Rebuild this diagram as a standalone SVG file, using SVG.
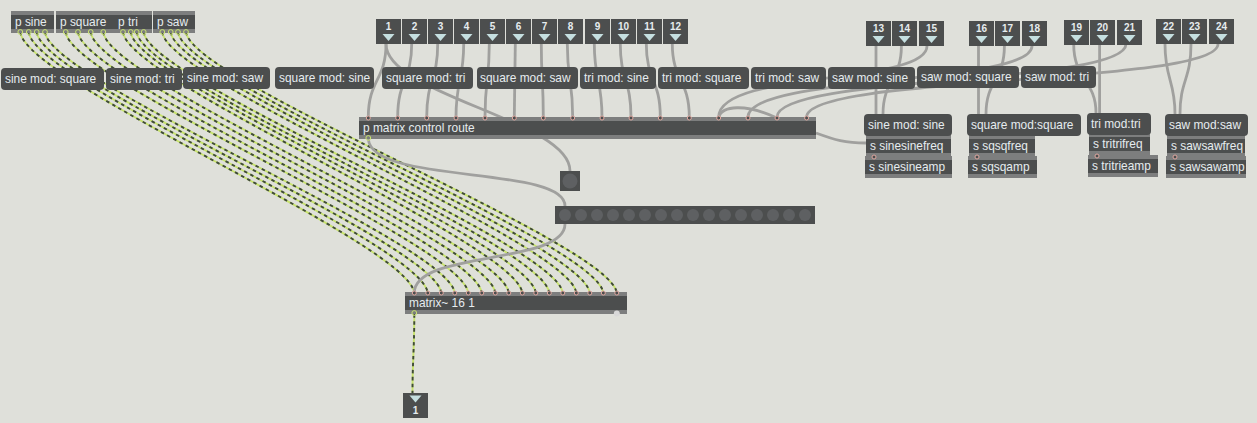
<svg xmlns="http://www.w3.org/2000/svg" width="1257" height="423" viewBox="0 0 1257 423">
<style>
text{font-family:"Liberation Sans",Arial,sans-serif;font-size:11.9px;fill:#e6ecee}
.num{font-size:10px;font-weight:bold;text-anchor:middle}
.c{fill:none;stroke:#a0a09e;stroke-width:2.8}
.sb{fill:none;stroke:#c8e36e;stroke-width:1.9}
.sd{fill:none;stroke:#3f4a38;stroke-width:1.9;stroke-dasharray:3.5 3.5}
.bar{fill:#7d7e7e}.body{fill:#4c4e4e}.bub{fill:#4c4e4e}.tri{fill:#c5dfe0}
.in{fill:#4c4e4e;stroke:#e0a8a0;stroke-width:1}
.out{fill:none;stroke:#c8e36e;stroke-width:1}
.led{fill:#5e6062}
</style>
<defs>
<path id="s1" d="M20.3,32C25,82 409,243 414.3,293"/>
<path id="s2" d="M28.7,32C34,82 422,243 427.8,293"/>
<path id="s3" d="M36.7,32C42,82 436,243 441.3,293"/>
<path id="s4" d="M45,32C50,82 449,243 454.8,293"/>
<path id="s5" d="M65.7,32C71,82 463,243 468.3,293"/>
<path id="s6" d="M78,32C83,82 476,243 481.8,293"/>
<path id="s7" d="M90.7,32C96,82 490,243 495.3,293"/>
<path id="s8" d="M103.3,32C108,82 503,243 508.8,293"/>
<path id="s9" d="M123,32C128,82 517,243 522.3,293"/>
<path id="s10" d="M130.7,32C136,82 530,243 535.8,293"/>
<path id="s11" d="M136.7,32C142,82 544,243 549.3,293"/>
<path id="s12" d="M143.7,32C149,82 557,243 562.8,293"/>
<path id="s13" d="M162.3,32C167,82 571,243 576.3,293"/>
<path id="s14" d="M170.7,32C176,82 584,243 589.8,293"/>
<path id="s15" d="M178,32C183,82 598,243 603.3,293"/>
<path id="s16" d="M186,32C191,82 611,243 616.8,293"/>
<path id="s17" d="M414.3,314C414.3,350 412.5,360 412.5,393"/>
<g id="sigs">
<use href="#s1"/><use href="#s2"/><use href="#s3"/><use href="#s4"/><use href="#s5"/><use href="#s6"/><use href="#s7"/><use href="#s8"/><use href="#s9"/><use href="#s10"/><use href="#s11"/><use href="#s12"/><use href="#s13"/><use href="#s14"/><use href="#s15"/><use href="#s16"/><use href="#s17"/>
</g>
</defs>
<rect width="1257" height="423" fill="#dfe0da"/>
<g id="connectors">
<use href="#sigs" class="sb"/>
<use href="#sigs" class="sd"/>
<g class="c">
<path d="M386,44C386,80 368.3,80 368.3,117"/>
<path d="M386,44C386,95 570,120 570,171"/>
<path d="M411.7,44C411.7,80 397.7,80 397.7,117"/>
<path d="M437.7,44C437.7,80 426.7,80 426.7,117"/>
<path d="M463.7,44C463.7,80 456,80 456,117"/>
<path d="M489.3,44C489.3,80 485,80 485,117"/>
<path d="M515.3,44L514.3,117"/>
<path d="M541.3,44C541.3,80 543.3,80 543.3,117"/>
<path d="M567.3,44C567.3,80 572.7,80 572.7,117"/>
<path d="M594.3,44C594.3,80 602,80 602,117"/>
<path d="M620.3,44C620.3,80 631,80 631,117"/>
<path d="M646.3,44C646.3,80 660.3,80 660.3,117"/>
<path d="M672.3,44C672.3,80 689.3,80 689.3,117"/>
<path d="M876,46V114"/>
<path d="M901.4,46C901.4,80 883,80 883,114"/>
<path d="M927,46C927,85 719,70 718.7,117"/>
<path d="M978.5,46V114"/>
<path d="M1004.4,46C1004.4,80 986,80 986,114"/>
<path d="M1032,46C1032,85 748,75 748,117"/>
<path d="M1073.7,44C1073.7,80 1096,80 1096,113"/>
<path d="M1099.6,44V113"/>
<path d="M1126,44C1126,85 777,75 777,117"/>
<path d="M1165,44C1165,80 1175,80 1175,114"/>
<path d="M1191,44C1191,80 1180,80 1180,114"/>
<path d="M1218,44C1218,85 806.6,75 806.6,117"/>
<path d="M718.7,117C722,106 745,103 777,118"/>
<path d="M816,133C835,140 845,143 866,143"/>
<path d="M368.3,139C372,185 565,165 565,206"/>
<path d="M565,224C565,265 414.3,250 414.3,293"/>
</g>
</g>
<g id="p-sine"><rect class="bar" x="11" y="11" width="43" height="22"/><rect class="body" x="11" y="15" width="43" height="14"/><text x="15" y="26">p sine</text></g>
<g id="p-square"><rect class="bar" x="56" y="11" width="58" height="22"/><rect class="body" x="56" y="15" width="58" height="14"/><text x="60" y="26">p square</text></g>
<g id="p-tri"><rect class="bar" x="114" y="11" width="38" height="22"/><rect class="body" x="114" y="15" width="38" height="14"/><text x="118" y="26">p tri</text></g>
<g id="p-saw"><rect class="bar" x="153" y="11" width="42" height="22"/><rect class="body" x="153" y="15" width="42" height="14"/><text x="157" y="26">p saw</text></g>
<g class="out">
<circle cx="20.3" cy="32" r="2.4"/><circle cx="28.7" cy="32" r="2.4"/><circle cx="36.7" cy="32" r="2.4"/><circle cx="45" cy="32" r="2.4"/>
<circle cx="65.7" cy="32" r="2.4"/><circle cx="78" cy="32" r="2.4"/><circle cx="90.7" cy="32" r="2.4"/><circle cx="103.3" cy="32" r="2.4"/>
<circle cx="123" cy="32" r="2.4"/><circle cx="130.7" cy="32" r="2.4"/><circle cx="136.7" cy="32" r="2.4"/><circle cx="143.7" cy="32" r="2.4"/>
<circle cx="162.3" cy="32" r="2.4"/><circle cx="170.7" cy="32" r="2.4"/><circle cx="178" cy="32" r="2.4"/><circle cx="186" cy="32" r="2.4"/>
</g>
<g id="c1"><rect class="bub" x="1" y="68" width="103" height="22" rx="4"/><text x="5" y="83">sine mod: square</text></g>
<g id="c2"><rect class="bub" x="106" y="68" width="76" height="22" rx="4"/><text x="110" y="83">sine mod: tri</text></g>
<g id="c3"><rect class="bub" x="183" y="67" width="87" height="22" rx="4"/><text x="187" y="82">sine mod: saw</text></g>
<g id="c4"><rect class="bub" x="275" y="67" width="99" height="22" rx="4"/><text x="279" y="82">square mod: sine</text></g>
<g id="c5"><rect class="bub" x="382" y="67" width="91" height="22" rx="4"/><text x="386" y="82">square mod: tri</text></g>
<g id="c6"><rect class="bub" x="477" y="67" width="101" height="22" rx="4"/><text x="480" y="82">square mod: saw</text></g>
<g id="c7"><rect class="bub" x="580" y="67" width="76" height="22" rx="4"/><text x="584" y="82">tri mod: sine</text></g>
<g id="c8"><rect class="bub" x="658" y="67" width="91" height="22" rx="4"/><text x="662" y="82">tri mod: square</text></g>
<g id="c9"><rect class="bub" x="751" y="67" width="75" height="22" rx="4"/><text x="755" y="82">tri mod: saw</text></g>
<g id="c10"><rect class="bub" x="828" y="67" width="87" height="22" rx="4"/><text x="832" y="82">saw mod: sine</text></g>
<g id="c11"><rect class="bub" x="917" y="66" width="102" height="22" rx="4"/><text x="921" y="81">saw mod: square</text></g>
<g id="c12"><rect class="bub" x="1021" y="66" width="75" height="22" rx="4"/><text x="1025" y="81">saw mod: tri</text></g>
<g id="route"><rect class="bar" x="359" y="117" width="457" height="22"/><rect class="body" x="359" y="121" width="457" height="14"/><text x="363" y="132">p matrix control route</text>
<g class="in"><circle cx="368.3" cy="118" r="2"/><circle cx="397.7" cy="118" r="2"/><circle cx="426.7" cy="118" r="2"/><circle cx="456" cy="118" r="2"/><circle cx="485" cy="118" r="2"/><circle cx="514.3" cy="118" r="2"/><circle cx="543.3" cy="118" r="2"/><circle cx="572.7" cy="118" r="2"/><circle cx="602" cy="118" r="2"/><circle cx="631" cy="118" r="2"/><circle cx="660.3" cy="118" r="2"/><circle cx="689.3" cy="118" r="2"/><circle cx="718.7" cy="118" r="2"/><circle cx="748" cy="118" r="2"/><circle cx="777" cy="118" r="2"/><circle cx="806.6" cy="118" r="2"/></g>
<circle class="out" cx="368.3" cy="138" r="2.4"/></g>
<g id="bang"><rect class="body" x="560" y="171" width="20" height="20"/><circle class="led" cx="570" cy="181" r="7.5"/></g>
<g id="matrixctrl"><rect class="body" x="555" y="206" width="260" height="18"/>
<g class="led"><circle cx="565" cy="215" r="6"/><circle cx="581" cy="215" r="6"/><circle cx="597" cy="215" r="6"/><circle cx="613" cy="215" r="6"/><circle cx="629" cy="215" r="6"/><circle cx="645" cy="215" r="6"/><circle cx="661" cy="215" r="6"/><circle cx="677" cy="215" r="6"/><circle cx="693" cy="215" r="6"/><circle cx="709" cy="215" r="6"/><circle cx="725" cy="215" r="6"/><circle cx="741" cy="215" r="6"/><circle cx="757" cy="215" r="6"/><circle cx="773" cy="215" r="6"/><circle cx="789" cy="215" r="6"/><circle cx="805" cy="215" r="6"/></g></g>
<g id="matrix"><rect class="bar" x="405" y="292" width="222" height="22"/><rect class="body" x="405" y="296" width="222" height="14"/><text x="409" y="307">matrix~ 16 1</text>
<g class="in"><circle cx="414.3" cy="293" r="2"/><circle cx="427.8" cy="293" r="2"/><circle cx="441.3" cy="293" r="2"/><circle cx="454.8" cy="293" r="2"/><circle cx="468.3" cy="293" r="2"/><circle cx="481.8" cy="293" r="2"/><circle cx="495.3" cy="293" r="2"/><circle cx="508.8" cy="293" r="2"/><circle cx="522.3" cy="293" r="2"/><circle cx="535.8" cy="293" r="2"/><circle cx="549.3" cy="293" r="2"/><circle cx="562.8" cy="293" r="2"/><circle cx="576.3" cy="293" r="2"/><circle cx="589.8" cy="293" r="2"/><circle cx="603.3" cy="293" r="2"/><circle cx="616.8" cy="293" r="2"/></g>
<circle class="out" cx="414.3" cy="313" r="2.4"/><circle cx="616.8" cy="313.5" r="3" fill="#d8d8d8"/></g>
<g id="out1"><rect class="body" x="403" y="393" width="25" height="25"/><path class="tri" d="M409.5,395.5h12l-6,7z"/><text class="num" x="415.5" y="414">1</text></g>
<g id="inlets">
<g id="i1"><rect class="body" x="376" y="19" width="25" height="25"/><text class="num" x="388.5" y="30">1</text><path class="tri" d="M382.5,34h12l-6,7z"/></g>
<g id="i2"><rect class="body" x="402" y="19" width="25" height="25"/><text class="num" x="414.5" y="30">2</text><path class="tri" d="M408.5,34h12l-6,7z"/></g>
<g id="i3"><rect class="body" x="428" y="19" width="25" height="25"/><text class="num" x="440.5" y="30">3</text><path class="tri" d="M434.5,34h12l-6,7z"/></g>
<g id="i4"><rect class="body" x="454" y="19" width="25" height="25"/><text class="num" x="466.5" y="30">4</text><path class="tri" d="M460.5,34h12l-6,7z"/></g>
<g id="i5"><rect class="body" x="480" y="19" width="25" height="25"/><text class="num" x="492.5" y="30">5</text><path class="tri" d="M486.5,34h12l-6,7z"/></g>
<g id="i6"><rect class="body" x="506" y="19" width="25" height="25"/><text class="num" x="518.5" y="30">6</text><path class="tri" d="M512.5,34h12l-6,7z"/></g>
<g id="i7"><rect class="body" x="532" y="19" width="25" height="25"/><text class="num" x="544.5" y="30">7</text><path class="tri" d="M538.5,34h12l-6,7z"/></g>
<g id="i8"><rect class="body" x="558" y="19" width="25" height="25"/><text class="num" x="570.5" y="30">8</text><path class="tri" d="M564.5,34h12l-6,7z"/></g>
<g id="i9"><rect class="body" x="585" y="19" width="25" height="25"/><text class="num" x="597.5" y="30">9</text><path class="tri" d="M591.5,34h12l-6,7z"/></g>
<g id="i10"><rect class="body" x="611" y="19" width="25" height="25"/><text class="num" x="623.5" y="30">10</text><path class="tri" d="M617.5,34h12l-6,7z"/></g>
<g id="i11"><rect class="body" x="637" y="19" width="25" height="25"/><text class="num" x="649.5" y="30">11</text><path class="tri" d="M643.5,34h12l-6,7z"/></g>
<g id="i12"><rect class="body" x="663" y="19" width="25" height="25"/><text class="num" x="675.5" y="30">12</text><path class="tri" d="M669.5,34h12l-6,7z"/></g>
<g id="i13"><rect class="body" x="866" y="21" width="25" height="25"/><text class="num" x="878.5" y="32">13</text><path class="tri" d="M872.5,36h12l-6,7z"/></g>
<g id="i14"><rect class="body" x="892" y="21" width="25" height="25"/><text class="num" x="904.5" y="32">14</text><path class="tri" d="M898.5,36h12l-6,7z"/></g>
<g id="i15"><rect class="body" x="919" y="21" width="25" height="25"/><text class="num" x="931.5" y="32">15</text><path class="tri" d="M925.5,36h12l-6,7z"/></g>
<g id="i16"><rect class="body" x="969" y="21" width="25" height="25"/><text class="num" x="981.5" y="32">16</text><path class="tri" d="M975.5,36h12l-6,7z"/></g>
<g id="i17"><rect class="body" x="995" y="21" width="25" height="25"/><text class="num" x="1007.5" y="32">17</text><path class="tri" d="M1001.5,36h12l-6,7z"/></g>
<g id="i18"><rect class="body" x="1022" y="21" width="25" height="25"/><text class="num" x="1034.5" y="32">18</text><path class="tri" d="M1028.5,36h12l-6,7z"/></g>
<g id="i19"><rect class="body" x="1064" y="20" width="25" height="25"/><text class="num" x="1076.5" y="31">19</text><path class="tri" d="M1070.5,35h12l-6,7z"/></g>
<g id="i20"><rect class="body" x="1090" y="20" width="25" height="25"/><text class="num" x="1102.5" y="31">20</text><path class="tri" d="M1096.5,35h12l-6,7z"/></g>
<g id="i21"><rect class="body" x="1117" y="20" width="25" height="25"/><text class="num" x="1129.5" y="31">21</text><path class="tri" d="M1123.5,35h12l-6,7z"/></g>
<g id="i22"><rect class="body" x="1156" y="19" width="25" height="25"/><text class="num" x="1168.5" y="30">22</text><path class="tri" d="M1162.5,34h12l-6,7z"/></g>
<g id="i23"><rect class="body" x="1182" y="19" width="25" height="25"/><text class="num" x="1194.5" y="30">23</text><path class="tri" d="M1188.5,34h12l-6,7z"/></g>
<g id="i24"><rect class="body" x="1209" y="19" width="25" height="25"/><text class="num" x="1221.5" y="30">24</text><path class="tri" d="M1215.5,34h12l-6,7z"/></g>
</g>
<g id="s-sinefreq"><rect class="bar" x="866" y="135" width="85" height="22"/><rect class="body" x="866" y="139" width="85" height="14"/><text x="870" y="150">s sinesinefreq</text></g>
<g id="s-sineamp"><rect class="bar" x="865" y="156" width="87" height="22"/><rect class="body" x="865" y="160" width="87" height="14"/><circle class="in" cx="874" cy="157" r="2"/><text x="869" y="171">s sinesineamp</text></g>
<g id="s-sqfreq"><rect class="bar" x="969" y="135" width="66" height="22"/><rect class="body" x="969" y="139" width="66" height="14"/><text x="973" y="150">s sqsqfreq</text></g>
<g id="s-sqamp"><rect class="bar" x="968" y="156" width="69" height="22"/><rect class="body" x="968" y="160" width="69" height="14"/><circle class="in" cx="977" cy="157" r="2"/><text x="972" y="171">s sqsqamp</text></g>
<g id="s-trifreq"><rect class="bar" x="1089" y="133" width="61" height="22"/><rect class="body" x="1089" y="137" width="61" height="14"/><text x="1093" y="148">s tritrifreq</text></g>
<g id="s-triamp"><rect class="bar" x="1088" y="155" width="70" height="22"/><rect class="body" x="1088" y="159" width="70" height="14"/><circle class="in" cx="1097" cy="156" r="2"/><text x="1092" y="170">s tritrieamp</text></g>
<g id="s-sawfreq"><rect class="bar" x="1167" y="135" width="78" height="22"/><rect class="body" x="1167" y="139" width="78" height="14"/><text x="1171" y="150">s sawsawfreq</text></g>
<g id="s-sawamp"><rect class="bar" x="1166" y="156" width="80" height="22"/><rect class="body" x="1166" y="160" width="80" height="14"/><circle class="in" cx="1175" cy="157" r="2"/><text x="1170" y="171">s sawsawamp</text></g>
<g id="c13"><rect class="bub" x="864" y="114" width="88" height="22" rx="4"/><text x="868" y="129">sine mod: sine</text></g>
<g id="c14"><rect class="bub" x="967" y="114" width="114" height="22" rx="4"/><text x="971" y="129">square mod:square</text></g>
<g id="c15"><rect class="bub" x="1087" y="113" width="64" height="22" rx="4"/><text x="1091" y="128">tri mod:tri</text></g>
<g id="c16"><rect class="bub" x="1165" y="114" width="83" height="22" rx="4"/><text x="1169" y="129">saw mod:saw</text></g>
</svg>
